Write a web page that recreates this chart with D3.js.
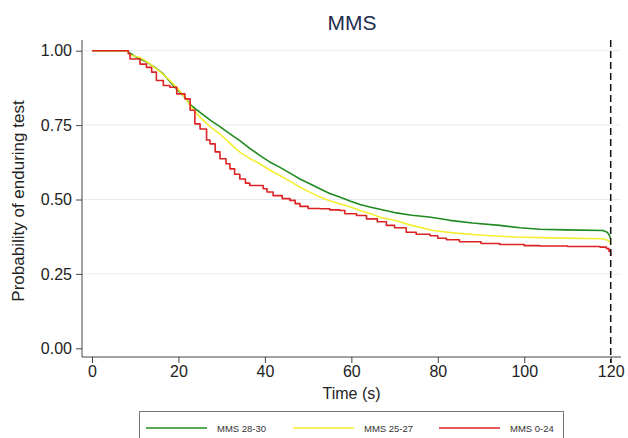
<!DOCTYPE html>
<html lang="en">
<head>
  <meta charset="UTF-8">
  <title>MMS</title>
  <style>
    body { margin: 0; background: #fff; }
    svg { display: block; font-family: "Liberation Sans", Arial, Helvetica, sans-serif; }
  </style>
</head>
<body>
<div id="chart"></div>

<script src="https://cdn.jsdelivr.net/npm/d3@7"></script>
<script>
  // survival estimates: [time (s), probability]
  const GREEN = [
    [0, 1], [8, 1], [10, 0.98], [12.6, 0.962], [14.5, 0.945], [16.5, 0.922], [19, 0.88],
    [21.5, 0.843], [23, 0.815], [25, 0.793], [27.5, 0.765], [29.6, 0.745], [32, 0.72],
    [34.2, 0.698], [36.5, 0.672], [38.8, 0.648], [41, 0.627], [43.5, 0.608], [46, 0.587],
    [48.1, 0.569], [50.5, 0.552], [52.7, 0.536], [55, 0.52], [57.3, 0.508], [60, 0.493],
    [62, 0.483], [64.5, 0.474], [66.6, 0.467], [70, 0.456], [74, 0.447], [78, 0.441],
    [82.8, 0.43], [88, 0.421], [94.3, 0.413], [99, 0.405], [103.6, 0.4], [109.7, 0.398],
    [118.2, 0.396], [119.2, 0.39], [119.7, 0.38], [120, 0.368]
  ];
  const YELLOW = [
    [0, 1], [8, 1], [9, 0.985], [11, 0.978], [13, 0.96], [14.9, 0.939], [16.5, 0.92],
    [18, 0.9], [20, 0.87], [21.5, 0.843], [23, 0.81], [25, 0.776], [27.3, 0.745],
    [29.6, 0.72], [32, 0.688], [34.2, 0.659], [36.5, 0.638], [38.8, 0.62], [41, 0.6],
    [43.5, 0.58], [46, 0.56], [48.1, 0.541], [50.5, 0.524], [52.7, 0.508], [55, 0.496],
    [57.3, 0.486], [60, 0.474], [62, 0.463], [64.5, 0.452], [66.6, 0.44], [70, 0.43],
    [74, 0.413], [78.9, 0.396], [84, 0.387], [90.4, 0.38], [98, 0.374], [105.9, 0.371],
    [118.2, 0.368], [119.5, 0.362], [120, 0.352]
  ];
  const RED = [
    [0, 1], [7.2, 1], [8.4, 0.99], [8.8, 0.972], [11.1, 0.955], [12.6, 0.944], [13.8, 0.928],
    [14.9, 0.9], [16.5, 0.883], [18, 0.877], [19.6, 0.855], [21.5, 0.838], [22.7, 0.8],
    [23.8, 0.754], [25, 0.737], [26.5, 0.7], [27.3, 0.687], [28.5, 0.66], [29.6, 0.637],
    [31, 0.62], [31.9, 0.603], [33, 0.585], [34.2, 0.569], [35.5, 0.555], [36.5, 0.547],
    [39.6, 0.536], [40.5, 0.525], [41.9, 0.513], [44, 0.503], [45.8, 0.497], [47, 0.486],
    [48.1, 0.477], [50, 0.47], [52.7, 0.469], [55, 0.465], [57.3, 0.463], [58.5, 0.452],
    [61.2, 0.446], [63.5, 0.435], [66, 0.425], [68.1, 0.413], [70, 0.405], [72.7, 0.39],
    [75, 0.383], [78.2, 0.378], [80, 0.37], [82, 0.365], [85, 0.358], [90, 0.352],
    [94.3, 0.349], [100, 0.345], [103.6, 0.344], [110, 0.342], [117.5, 0.34], [119, 0.335],
    [119.6, 0.326], [120, 0.31]
  ];
  const SERIES_NAMES = ['MMS 28-30', 'MMS 25-27', 'MMS 0-24'];
  const SERIES_COLORS = ['#1f8a1f', '#f3ee32', '#dc2222'];
  const X_TICKS = [0, 20, 40, 60, 80, 100, 120];
  const Y_TICKS = [0, 0.25, 0.5, 0.75, 1];

  const W = 628, H = 438;
  const plot = {left: 82, right: 621, top: 40, bottom: 357};

  const svg = d3.select('#chart')
    .append('svg')
    .attr('width', W)
    .attr('height', H);

  const x = d3.scaleLinear().domain([0, 120]).range([92, 610.7]);
  const y = d3.scaleLinear().domain([0, 1]).range([348.3, 50.7]);

  // gridlines
  svg.append('g')
    .selectAll('line')
    .data(Y_TICKS.filter(d => d > 0))
    .enter()
    .append('line')
    .attr('x1', plot.left)
    .attr('x2', plot.right)
    .attr('y1', d => y(d))
    .attr('y2', d => y(d))
    .attr('stroke', '#e3ecf0')
    .attr('stroke-width', 1);

  // axes
  const xAxis = svg.append('g')
    .attr('transform', 'translate(0,' + plot.bottom + ')')
    .call(d3.axisBottom(x).tickValues(X_TICKS).tickFormat(d3.format('d')).tickSize(6).tickPadding(3));
  const yAxis = svg.append('g')
    .attr('transform', 'translate(' + plot.left + ',0)')
    .call(d3.axisLeft(y).tickValues(Y_TICKS).tickFormat(d3.format('.2f')).tickSize(6).tickPadding(4));

  [xAxis, yAxis].forEach(function (g) {
    g.select('.domain').remove();
    g.selectAll('line').attr('stroke', '#444');
    g.selectAll('text')
      .attr('fill', '#222')
      .style('font-size', '16px')
      .style('font-family', '"Liberation Sans", Arial, sans-serif');
  });

  svg.append('line')
    .attr('x1', plot.left).attr('x2', plot.right)
    .attr('y1', plot.bottom).attr('y2', plot.bottom)
    .attr('stroke', '#444');
  svg.append('line')
    .attr('x1', plot.left).attr('x2', plot.left)
    .attr('y1', plot.top).attr('y2', plot.bottom)
    .attr('stroke', '#444');

  // curves: the two large groups have many small steps, drawn smooth;
  // the smaller red group shows visible stairs
  const smooth = d3.line()
    .x(d => x(d[0]))
    .y(d => y(d[1]));
  const steps = d3.line()
    .x(d => x(d[0]))
    .y(d => y(d[1]))
    .curve(d3.curveStepAfter);

  [GREEN, YELLOW, RED].forEach(function (data, i) {
    svg.append('path')
      .datum(data)
      .attr('fill', 'none')
      .attr('stroke', SERIES_COLORS[i])
      .attr('stroke-width', 1.6)
      .attr('stroke-linejoin', 'round')
      .attr('d', i === 2 ? steps : smooth);
  });

  // dashed line at 120 s
  svg.append('line')
    .attr('x1', x(120)).attr('x2', x(120))
    .attr('y1', plot.top).attr('y2', plot.bottom + 6)
    .attr('stroke', '#111')
    .attr('stroke-width', 1.5)
    .attr('stroke-dasharray', '7,4');

  // titles
  svg.append('text')
    .attr('x', 352).attr('y', 30)
    .attr('text-anchor', 'middle')
    .attr('fill', '#1e2d4d')
    .style('font-size', '21px')
    .text('MMS');

  svg.append('text')
    .attr('x', 351.5).attr('y', 399)
    .attr('text-anchor', 'middle')
    .attr('fill', '#222')
    .style('font-size', '16px')
    .text('Time (s)');

  svg.append('text')
    .attr('transform', 'translate(24,201) rotate(-90)')
    .attr('text-anchor', 'middle')
    .attr('fill', '#222')
    .style('font-size', '17px')
    .text('Probability of enduring test');

  // legend
  svg.append('rect')
    .attr('x', 139.5).attr('y', 411.5)
    .attr('width', 424).attr('height', 40)
    .attr('fill', '#fff')
    .attr('stroke', '#777');

  const legendX = [146, 293, 439];
  const legend = svg.append('g')
    .selectAll('g')
    .data(SERIES_NAMES)
    .enter()
    .append('g')
    .attr('transform', (d, i) => 'translate(' + legendX[i] + ',428)');
  legend.append('line')
    .attr('x1', 0).attr('x2', 61)
    .attr('stroke', (d, i) => SERIES_COLORS[i])
    .attr('stroke-width', 1.6);
  legend.append('text')
    .attr('x', 71).attr('y', 3.5)
    .attr('fill', '#333')
    .style('font-size', '9.5px')
    .text(d => d);
</script>
</body>
</html>
